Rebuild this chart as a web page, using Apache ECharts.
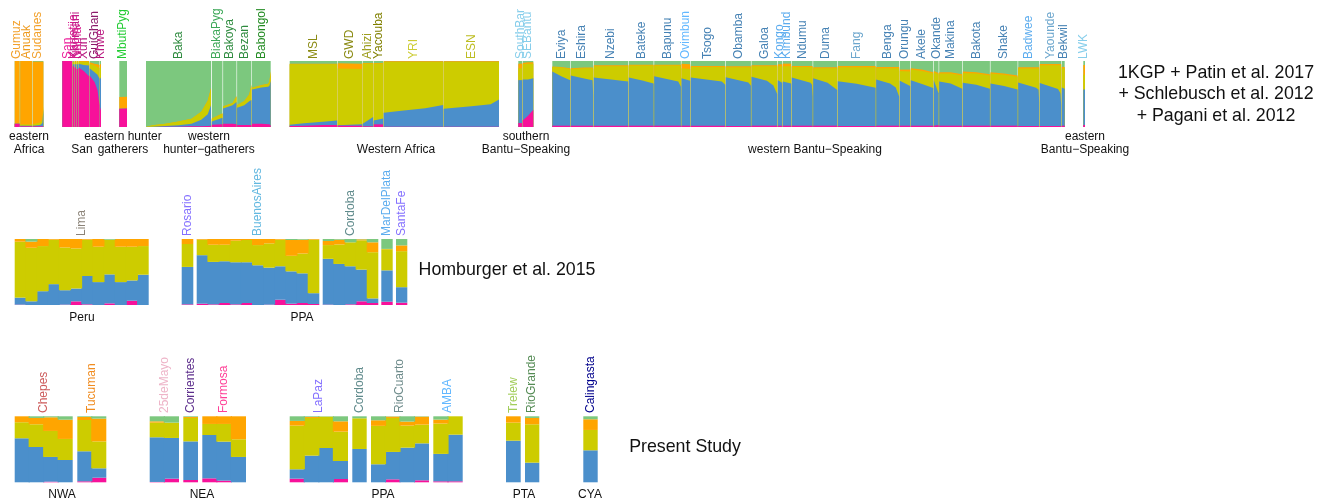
<!DOCTYPE html>
<html>
<head>
<meta charset="utf-8">
<script src="https://cdn.jsdelivr.net/npm/echarts@6/dist/echarts.min.js"></script>
<style>
  html, body { margin: 0; padding: 0; background: #fff; }
  #chart { width: 1331px; height: 500px; }
</style>
</head>
<body>
<div id="chart"></div>
<script>
// ancestry layers, bottom to top
const layerNames = ['pink', 'blue', 'olive', 'orange', 'green']
const layerColors = ['#F7119A', '#4B8FCB', '#CDCC00', '#FFA500', '#7CC87E']

// row 1: sorted individuals, [rank %, pink, blue, olive, orange, green]
const Gumuz = [[0, 5, 0, 0.5, 94.5, 0], [100, 5, 0, 0.5, 94.5, 0]]
const Anuak = [[0, 1, 1, 2, 96, 0], [100, 1, 1, 2, 96, 0]]
const Sudanese = [[0, 1, 1, 2, 95, 1], [70, 1, 2, 4, 92, 1], [90, 1, 5, 5, 88, 1], [100, 1, 25, 5, 68, 1]]
const San = [[0, 100, 0, 0, 0, 0], [100, 100, 0, 0, 0, 0]]
const Karretjie = [[0, 92, 3, 3, 1, 1], [100, 92, 3, 3, 1, 1]]
const Khomani = [[0, 90, 5, 4, 1, 0], [100, 90, 5, 4, 1, 0]]
const Nama = [[0, 88, 7, 4, 1, 0], [100, 88, 7, 4, 1, 0]]
const Xun = [[0, 90, 6, 3, 1, 0], [50, 85, 9, 5, 1, 0], [100, 77, 16, 6, 1, 0]]
const GuiGhana = [[0, 78, 11, 7, 2, 2], [50, 68, 15, 10, 3, 4], [80, 56, 23, 12, 4, 5], [100, 33, 40, 16, 5, 6]]
const Khwe = [[0, 30, 45, 15, 5, 5], [100, 25, 48, 17, 5, 5]]
const MbutiPyg = [[0, 27.5, 0, 0, 18, 54.5], [100, 28, 0, 0, 18, 54]]
const Baka = [[0, 0, 0, 0, 0, 100], [10, 0, 0.5, 2, 0, 97.5], [30, 0.5, 1, 3.5, 0, 95], [50, 0.5, 2, 6, 0, 91.5], [70, 1, 4, 7.5, 0, 87.5], [85, 1, 10, 12, 0, 77], [95, 1.5, 18, 20, 0.5, 60], [100, 2, 31, 25, 1, 41]]
const BiakaPyg = [[0, 3.5, 5, 4, 0.5, 87], [100, 4, 10, 6, 1, 79]]
const Bakoya = [[0, 5, 23, 3, 0.5, 68.5], [70, 5, 28, 3, 0.5, 63.5], [100, 4, 34, 8, 1, 53]]
const Bezan = [[0, 3, 26, 4, 0.5, 66.5], [50, 3, 30, 6, 0.5, 60.5], [85, 3, 36, 10, 0.5, 50.5], [100, 3, 38, 22, 1, 36]]
const Babongol = [[0, 5, 52, 2, 0.5, 40.5], [50, 5, 55, 3, 0.5, 36.5], [85, 4, 57, 4, 0.5, 34.5], [93, 4, 58, 6, 0.5, 31.5], [100, 2, 68, 14, 1, 15]]
const MSL = [[0, 1.5, 2, 91.5, 1, 4], [30, 2, 3.5, 89.5, 1, 4], [70, 3, 5, 87, 1, 4], [100, 3, 7, 85, 1, 4]]
const GWD = [[0, 2, 0.5, 86, 8, 3.5], [100, 2, 2, 84, 8, 4]]
const Ahizi = [[0, 1, 4, 91, 1, 3], [100, 1, 14, 81, 1, 3]]
const Yacouba = [[0, 4, 6, 86, 1, 3], [100, 4, 9, 83, 1, 3]]
const YRI = [[0, 0.5, 21, 77, 1, 0.5], [30, 0.5, 24, 74, 1, 0.5], [70, 0.5, 28, 70, 1, 0.5], [100, 0.5, 33, 65, 1, 0.5]]
const ESN = [[0, 0.5, 27, 71, 1, 0.5], [50, 0.5, 31, 67, 1, 0.5], [85, 0.5, 34, 64, 1, 0.5], [100, 0.5, 41, 57, 1, 0.5]]
const SouthBar = [[0, 6, 65, 18, 7, 4], [100, 6, 65, 18, 7, 4]]
const SEBantu = [[0, 10, 62, 23, 2, 3], [50, 17, 55, 24, 2, 2], [100, 26, 48, 22, 2, 2]]
const Eviya = [[0, 2, 82, 7, 0.5, 8.5], [50, 2, 75, 13, 1, 9], [100, 2, 69, 17, 1, 11]]
const Eshira = [[0, 2, 76, 10, 1, 11], [60, 2, 71.5, 15.5, 1, 10], [97, 2, 69, 18, 1, 10], [100, 2, 46, 40, 1, 11]]
const Nzebi = [[0, 2, 73, 17, 1.5, 6.5], [50, 2, 70, 20, 1.5, 6.5], [100, 2, 67, 23, 1.5, 6.5]]
const Bateke = [[0, 2, 73, 18, 1.5, 5.5], [50, 2, 69, 22, 1.5, 5.5], [100, 2, 64, 27, 1.5, 5.5]]
const Bapunu = [[0, 2, 75, 16, 1.5, 5.5], [90, 2, 67, 24, 1.5, 5.5], [100, 2, 59, 32, 1.5, 5.5]]
const Ovimbundu = [[0, 2, 72, 15, 7, 4], [100, 2, 68, 18, 7, 5]]
const Tsogo = [[0, 2, 73, 16, 1.5, 7.5], [90, 2, 67, 22, 1.5, 7.5], [100, 2, 62, 27, 1.5, 7.5]]
const Obamba = [[0, 1.5, 74, 15, 1.5, 8], [90, 1.5, 66, 23, 1.5, 8], [100, 1.5, 61, 28, 1.5, 8]]
const Galoa = [[0, 2, 74, 16, 1.5, 6.5], [60, 2, 68, 22, 1.5, 6.5], [85, 2, 61, 29, 1.5, 6.5], [100, 2, 48, 42, 1.5, 6.5]]
const Kongo = [[0, 2, 69, 21, 3, 5], [100, 2, 65, 25, 3, 5]]
const Kimbundu = [[0, 2, 67, 23, 4, 4], [100, 2, 64, 26, 4, 4]]
const Ndumu = [[0, 2, 73, 16, 1.5, 7.5], [90, 2, 65, 24, 1.5, 7.5], [97, 2, 62, 27, 1.5, 7.5], [100, 2, 44, 45, 1.5, 7.5]]
const Duma = [[0, 2, 72, 15, 1.5, 9.5], [60, 2, 65, 22, 1.5, 9.5], [100, 2, 54, 33, 1.5, 9.5]]
const Fang = [[0, 1.5, 68, 21, 2, 7.5], [50, 1.5, 64, 25, 2, 7.5], [100, 1.5, 58, 31, 2, 7.5]]
const Benga = [[0, 2, 70, 17, 2, 9], [60, 2, 64, 23, 2, 9], [85, 2, 58, 29, 2, 9], [100, 2, 44, 43, 2, 9]]
const Orungu = [[0, 2, 68, 15, 2, 13], [100, 2, 60, 22, 3, 13]]
const Akele = [[0, 2, 69, 16, 2, 11], [50, 2, 63, 20, 2, 13], [100, 2, 57, 22, 2, 17]]
const Okande = [[0, 2, 69, 12, 2, 15], [100, 3, 48, 29, 2, 18]]
const Makina = [[0, 2, 67, 12, 2, 17], [50, 2, 64, 15, 2, 17], [100, 2, 56, 20, 2, 20]]
const Bakota = [[0, 2, 65, 15, 2, 16], [50, 2, 62, 17, 2, 17], [100, 2, 56, 20, 2, 20]]
const Shake = [[0, 2, 64, 15, 2, 17], [50, 2, 60, 17, 2, 19], [100, 2, 55, 19, 2, 22]]
const Badwee = [[0, 1.5, 66, 21, 2, 9.5], [85, 1.5, 58, 29, 2, 9.5], [97, 1.5, 55, 32, 2, 9.5], [100, 1.5, 36, 51, 2, 9.5]]
const Yaounde = [[0, 1.5, 65, 27, 2, 4.5], [85, 1.5, 56, 36, 2, 4.5], [96, 1.5, 50, 42, 2, 4.5], [100, 1.5, 32, 60, 2, 4.5]]
const Bekwil = [[0, 2, 58, 29, 2, 9], [100, 2, 56, 31, 2, 9]]
const LWK = [[0, 3, 54, 22, 15, 6], [100, 3, 54, 22, 15, 6]]

// rows 2 and 3: one entry per individual, [pink, blue, olive, orange, green]
const Lima = [[0.5, 10.7, 84.7, 4.1, 0], [0, 5.6, 81.1, 9.3, 4], [0, 20.9, 68.4, 10.7, 0], [0, 31.6, 67.4, 1, 0], [0.5, 21.9, 64.8, 12.8, 0], [5.5, 19.5, 60.7, 14.3, 0], [1, 42.9, 55.1, 1, 0], [0, 34.7, 53.6, 11.7, 0], [2.5, 43.9, 52.6, 0, 1], [0, 34.7, 53.6, 11.7, 0], [6.5, 30.7, 51.1, 11.7, 0], [0, 45.9, 43.4, 10.7, 0]]
const Rosario = [[1, 56.7, 34.7, 7.6, 0]]
const BuenosAires = [[2, 73.5, 23.5, 1, 0], [1, 64.3, 26, 8.7, 0], [3, 63.3, 25, 8.7, 0], [1, 63.8, 32.6, 2.6, 0], [3, 61.8, 33.7, 1.5, 0], [0, 60.2, 30.6, 9.2, 0], [0.5, 56.1, 36.8, 6.6, 0], [8, 50.7, 40.3, 1, 0], [2, 49, 23.5, 24, 1.5], [3, 45, 30, 21, 1], [1.5, 16.4, 81, 1, 0.1]]
const CordobaPPA = [[0.5, 69.5, 20.8, 6.2, 3], [0, 62.2, 29.6, 7.2, 1], [1, 57.7, 36.3, 0, 5], [5.6, 48, 44.4, 1.5, 0.5], [3, 7, 70, 15, 5]]
const MarDelPlata = [[5, 47.5, 32, 0.5, 15]]
const SantaFe = [[3.5, 23.5, 54.6, 8.7, 9.7]]

const Chepes = [[0, 66.7, 24.3, 9, 0], [0, 53.5, 34.4, 9.6, 2.5], [1, 37.4, 39.4, 20.7, 1.5], [0, 33.8, 31.9, 29.2, 5.1]]
const Tucuman = [[1.5, 45.5, 47.4, 4.6, 1], [7, 14.2, 40.8, 34.5, 3.5]]
const Mayo25 = [[0.5, 67.7, 22.2, 2, 7.6], [5.5, 61.7, 23.2, 0, 9.6]]
const Corrientes = [[3.5, 58.5, 35.5, 1.5, 1]]
const Formosa = [[6, 65.7, 16.7, 11.6, 0], [2.5, 59.1, 26.8, 11.6, 0], [0, 38.4, 26.8, 34.8, 0]]
const LaPaz = [[5.5, 14.2, 66.2, 7.1, 7], [0, 40.4, 57.1, 1.5, 1], [0, 52, 47.5, 0, 0.5], [5, 27.3, 44.5, 15.6, 7.6]]
const CordobaStudy = [[0, 50.5, 46.5, 0, 3]]
const RioCuarto = [[0, 27.3, 58.1, 8.5, 6], [4.5, 41.5, 51.5, 2, 0.5], [0, 52.5, 33.4, 6.1, 8], [3, 56, 28.4, 12, 0.6]]
const AMBA = [[1.5, 41.5, 45.9, 6, 5], [1.5, 70.7, 27.8, 0, 0]]
const Trelew = [[0, 63.1, 27.3, 9.6, 0]]
const RioGrande = [[0, 29.8, 58.1, 9.6, 2.5]]
const Calingasta = [[0, 48.5, 30.8, 16.2, 4.5]]

const row1Names = ['Gumuz', 'Anuak', 'Sudanese', 'San', 'Karretjie', 'Khomani', 'Nama', 'Xun', 'GuiGhana', 'Khwe', 'MbutiPyg', 'Baka', 'BiakaPyg', 'Bakoya', 'Bezan', 'Babongol', 'MSL', 'GWD', 'Ahizi', 'Yacouba', 'YRI', 'ESN', 'SouthBar', 'SEBantu', 'Eviya', 'Eshira', 'Nzebi', 'Bateke', 'Bapunu', 'Ovimbundu', 'Tsogo', 'Obamba', 'Galoa', 'Kongo', 'Kimbundu', 'Ndumu', 'Duma', 'Fang', 'Benga', 'Orungu', 'Akele', 'Okande', 'Makina', 'Bakota', 'Shake', 'Badwee', 'Yaounde', 'Bekwil', 'LWK']
const row1Values = [Gumuz, Anuak, Sudanese, San, Karretjie, Khomani, Nama, Xun, GuiGhana, Khwe, MbutiPyg, Baka, BiakaPyg, Bakoya, Bezan, Babongol, MSL, GWD, Ahizi, Yacouba, YRI, ESN, SouthBar, SEBantu, Eviya, Eshira, Nzebi, Bateke, Bapunu, Ovimbundu, Tsogo, Obamba, Galoa, Kongo, Kimbundu, Ndumu, Duma, Fang, Benga, Orungu, Akele, Okande, Makina, Bakota, Shake, Badwee, Yaounde, Bekwil, LWK]
const row1Colors = ['#F2A12C', '#EE9A1E', '#F2A12C', '#EC1E9B', '#D81C8F', '#C01A88', '#D81C8F', '#B8177F', '#8C1A6B', '#B8177F', '#22CC33', '#2E8B3F', '#3DA858', '#2E8B3F', '#2E8B3F', '#228B22', '#8B8B14', '#8B8B14', '#9E9E1E', '#808000', '#CCCC33', '#BDBD22', '#87CEEB', '#87CEEB', '#4682B4', '#4682B4', '#4682B4', '#4682B4', '#4682B4', '#63B8FF', '#4682B4', '#4682B4', '#4682B4', '#5CACEE', '#5CACEE', '#4682B4', '#4682B4', '#6CA6CD', '#4682B4', '#4682B4', '#4682B4', '#4682B4', '#4682B4', '#4682B4', '#4682B4', '#5CACEE', '#6CA6CD', '#4682B4', '#87CEEB']
const row1Edges = [[14.7, 19.6], [20.2, 32.2], [32.8, 43.4], [62.3, 72.2], [72.8, 74], [74.6, 76], [76.6, 78], [78.6, 89], [89.6, 99.5], [100, 101], [119.3, 127], [146, 211], [211.8, 222.5], [223.1, 236.5], [237.1, 251.4], [252, 270.7], [289.7, 337.1], [337.7, 362.1], [362.7, 373.1], [373.7, 383.1], [383.7, 443.1], [443.7, 499], [518.3, 522.1], [522.7, 533.3], [552.3, 570.2], [570.8, 593.2], [593.8, 628.2], [628.8, 653.6], [654.2, 680.9], [681.5, 690.2], [690.8, 725.2], [725.8, 750.9], [751.5, 777.2], [777.8, 782.2], [782.8, 791.2], [791.8, 812.6], [813.2, 837.2], [837.8, 875.6], [876.2, 899.2], [899.8, 910.2], [910.8, 933.2], [933.8, 938.6], [939.2, 962.2], [962.8, 989.9], [990.5, 1017.6], [1018.2, 1039.2], [1039.8, 1061.2], [1061.8, 1064.7], [1083.3, 1085]]

const row2Names = ['Lima', 'Rosario', 'BuenosAires', 'Cordoba', 'MarDelPlata', 'SantaFe']
const row2Values = [Lima, Rosario, BuenosAires, CordobaPPA, MarDelPlata, SantaFe]
const row2Colors = ['#8B8378', '#8470FF', '#63B8E0', '#5F8A8B', '#5CACEE', '#8470FF']
const row2Edges = [[14.7, 148.7], [181.7, 193.3], [196.7, 319.3], [322.7, 378.3], [381.3, 392.7], [396, 407.3]]

const row3Names = ['Chepes', 'Tucuman', '25deMayo', 'Corrientes', 'Formosa', 'LaPaz', 'Cordoba', 'RioCuarto', 'AMBA', 'Trelew', 'RioGrande', 'Calingasta']
const row3Values = [Chepes, Tucuman, Mayo25, Corrientes, Formosa, LaPaz, CordobaStudy, RioCuarto, AMBA, Trelew, RioGrande, Calingasta]
const row3Colors = ['#CD5C5C', '#F08C20', '#EEB4C8', '#5D2E8C', '#FF3E96', '#8470FF', '#5F8A8B', '#6E8B8B', '#63B8FF', '#A2CD5A', '#548B54', '#00008B']
const row3Edges = [[14.7, 72.7], [77.3, 106.3], [149.7, 179], [183.3, 198], [202.3, 246], [289.7, 348], [352.3, 366.7], [371, 429], [433.3, 462.7], [506, 520.7], [525, 539.3], [583.3, 597.7]]

// text under the rows: [text, centre x, centre y]
const groupLabels = [
  ['eastern', 29, 137], ['Africa', 29, 150],
  ['San', 82, 150], ['eastern hunter', 123, 137], ['gatherers', 123, 150],
  ['western', 209, 137], ['hunter\u2212gatherers', 209, 150],
  ['Western Africa', 396, 150],
  ['southern', 526, 137], ['Bantu\u2212Speaking', 526, 150],
  ['western Bantu\u2212Speaking', 815, 150],
  ['eastern', 1085, 137], ['Bantu\u2212Speaking', 1085, 150],
  ['Peru', 82, 318], ['PPA', 302, 318],
  ['NWA', 62, 495], ['NEA', 202, 495], ['PPA', 383, 495], ['PTA', 524, 495], ['CYA', 590, 495]
]
const captions = [
  ['1KGP + Patin et al. 2017', 1216, 73], ['+ Schlebusch et al. 2012', 1216, 94], ['+ Pagani et al. 2012', 1216, 116],
  ['Homburger et al. 2015', 507, 270],
  ['Present Study', 685, 447]
]

const fontFamily = '"Liberation Sans", Arial, sans-serif'
const grid = []
const xAxis = []
const yAxis = []
const series = []
const graphic = []

function addGrid(left, right, top, height, xOpt) {
  const i = grid.length
  grid.push({ left, top, width: right - left, height, containLabel: false })
  xAxis.push({ gridIndex: i, show: false, ...xOpt })
  yAxis.push({ gridIndex: i, type: 'value', min: 0, max: 100, show: false })
  return i
}

function addName(name, color, x, y, maxLen) {
  const style = { text: name, fill: color, font: '12px ' + fontFamily, textAlign: 'left', textVerticalAlign: 'middle' }
  if (maxLen) {
    style.width = maxLen
    style.overflow = 'truncate'
    style.ellipsis = ''
  }
  graphic.push({ type: 'text', x, y, rotation: Math.PI / 2, silent: true, style })
}

// one polygon per layer over the whole population, top layer first so no seams show
function renderPopulation(params, api, rows) {
  if (params.dataIndex > 0) return null
  const children = []
  for (let k = layerNames.length - 1; k >= 0; k--) {
    const upper = rows.map((r) => {
      const total = r[1] + r[2] + r[3] + r[4] + r[5]
      let cum = 0
      for (let j = 0; j <= k; j++) cum += r[j + 1]
      return api.coord([r[0], cum / total * 100])
    })
    const lower = [api.coord([rows[rows.length - 1][0], 0]), api.coord([rows[0][0], 0])]
    children.push({
      type: 'polygon',
      shape: { points: upper.concat(lower) },
      style: { fill: layerColors[k] }
    })
  }
  return { type: 'group', children }
}

// row 1: stacked profile along the sorted individuals
row1Values.forEach((rows, p) => {
  const [left, right] = row1Edges[p]
  const i = addGrid(left, right, 61, 66, { type: 'value', min: 0, max: 100 })
  series.push({
    type: 'custom', name: row1Names[p], xAxisIndex: i, yAxisIndex: i,
    data: rows, encode: { x: 0, y: [1, 2, 3, 4, 5] },
    renderItem: (params, api) => renderPopulation(params, api, rows),
    silent: true, animation: false
  })
  addName(row1Names[p], row1Colors[p], (left + right) / 2, 59, 52)
})

// rows 2 and 3: one stacked bar per individual
function addBarRow(names, values, colors, edges, top, labelBottom) {
  values.forEach((rows, p) => {
    const [left, right] = edges[p]
    const i = addGrid(left, right, top, 66, { type: 'category', data: rows.map((r, n) => n + 1) })
    layerNames.forEach((layer, k) => {
      series.push({
        type: 'bar', name: layer, xAxisIndex: i, yAxisIndex: i, stack: 'p' + i,
        data: rows.map((r) => r[k] / (r[0] + r[1] + r[2] + r[3] + r[4]) * 100),
        barWidth: '108%', itemStyle: { color: layerColors[k] }, silent: true, animation: false
      })
    })
    addName(names[p], colors[p], (left + right) / 2, labelBottom)
  })
}
addBarRow(row2Names, row2Values, row2Colors, row2Edges, 239, 236)
addBarRow(row3Names, row3Values, row3Colors, row3Edges, 416.3, 413)

groupLabels.forEach(([text, x, y]) => {
  graphic.push({ type: 'text', x, y, silent: true, style: { text, fill: '#111', font: '12px ' + fontFamily, textAlign: 'center', textVerticalAlign: 'middle' } })
})
captions.forEach(([text, x, y]) => {
  graphic.push({ type: 'text', x, y, silent: true, style: { text, fill: '#111', font: '17.8px ' + fontFamily, textAlign: 'center', textVerticalAlign: 'middle' } })
})

const myChart = echarts.init(document.getElementById('chart'))
myChart.setOption({
  backgroundColor: '#fff',
  animation: false,
  tooltip: { show: false },
  grid, xAxis, yAxis, series, graphic
})
</script>
</body>
</html>
